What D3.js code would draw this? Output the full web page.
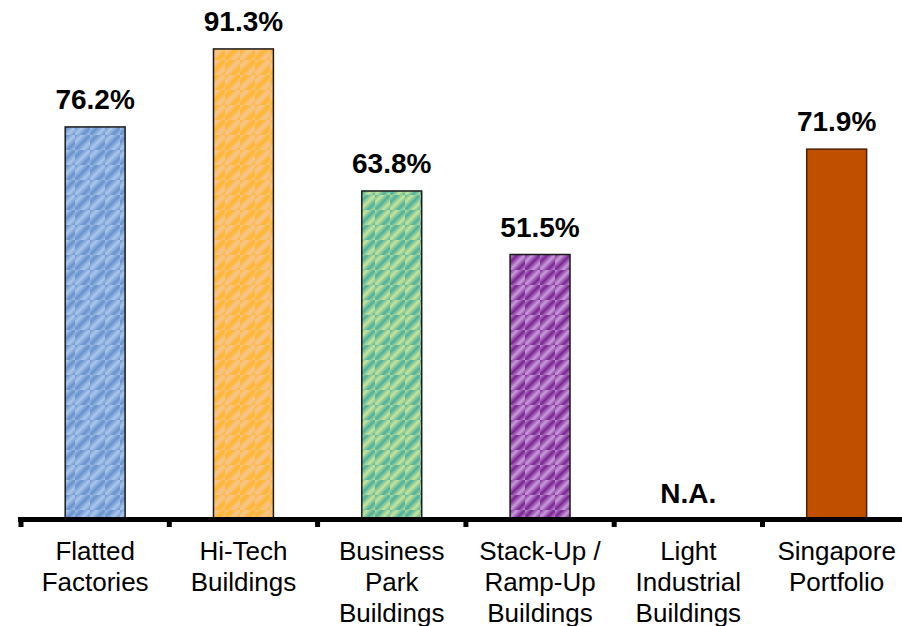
<!DOCTYPE html>
<html>
<head>
<meta charset="utf-8">
<script src="https://cdn.jsdelivr.net/npm/d3@7"></script>
<style>
  html, body { margin: 0; padding: 0; background: #fff; }
  svg { display: block; }
</style>
</head>
<body>
<svg id="chart" width="902" height="626"></svg>
<script>
// Occupancy rate by property segment
const categories = [
  ["Flatted", "Factories"],
  ["Hi-Tech", "Buildings"],
  ["Business", "Park", "Buildings"],
  ["Stack-Up /", "Ramp-Up", "Buildings"],
  ["Light", "Industrial", "Buildings"],
  ["Singapore", "Portfolio"]
];
const occupancy = [76.2, 91.3, 63.8, 51.5, null, 71.9];
const valueLabels = ["76.2%", "91.3%", "63.8%", "51.5%", "N.A.", "71.9%"];
// [dark, light] pairs for the hatched fills; null = solid fill
const fillPairs = [
  ["#6892cd", "#aac6ec"],
  ["#ffb52c", "#f6c692"],
  ["#4cb09c", "#c8e49a"],
  ["#7a2490", "#c89adc"],
  ["#888888", "#cccccc"],
  null
];
const solidFill = "#c04f00";

const W = 902, H = 626;
const svg = d3.select("#chart");
const defs = svg.append("defs");

const keys = categories.map((c, i) => "c" + i);
const x = d3.scaleBand()
  .domain(keys)
  .range([21, 910.8])
  .paddingInner(0.596)
  .paddingOuter(0.298);
const y = d3.scaleLinear().domain([0, 100]).range([520.5, 4]);
const step = x.step();

// Diagonal checker-hatch patterns
const B = 15;
fillPairs.forEach((pair, i) => {
  if (!pair) return;
  ["a", "b"].forEach((ph, k) => {
    const g = defs.append("linearGradient")
      .attr("id", `g${i}${ph}`)
      .attr("gradientUnits", "userSpaceOnUse")
      .attr("x1", 0).attr("y1", 0)
      .attr("x2", B / 2).attr("y2", B / 2)
      .attr("spreadMethod", "repeat");
    const s = k === 0 ? [pair[0], pair[1], pair[0]] : [pair[1], pair[0], pair[1]];
    g.append("stop").attr("offset", 0).attr("stop-color", s[0]);
    g.append("stop").attr("offset", 0.5).attr("stop-color", s[1]);
    g.append("stop").attr("offset", 1).attr("stop-color", s[2]);
  });
  const p = defs.append("pattern")
    .attr("id", `p${i}`)
    .attr("patternUnits", "userSpaceOnUse")
    .attr("width", 2 * B).attr("height", 2 * B);
  [[0, 0, "a"], [B, 0, "b"], [0, B, "b"], [B, B, "a"]].forEach(([px, py, ph]) => {
    p.append("rect")
      .attr("x", px).attr("y", py).attr("width", B).attr("height", B)
      .attr("fill", `url(#g${i}${ph})`);
  });
});

const rows = keys.map((k, i) => ({ key: k, value: occupancy[i], label: valueLabels[i], lines: categories[i], i }));

// Bars
svg.append("g").selectAll("rect")
  .data(rows.filter(d => d.value != null))
  .join("rect")
  .attr("x", d => x(d.key))
  .attr("y", d => y(d.value))
  .attr("width", x.bandwidth())
  .attr("height", d => y(0) - y(d.value))
  .attr("fill", d => fillPairs[d.i] ? `url(#p${d.i})` : solidFill)
  .attr("stroke", d => fillPairs[d.i] ? "#1a1a1a" : "#4a2000")
  .attr("stroke-width", 1.5);

// Value labels
svg.append("g").selectAll("text")
  .data(rows)
  .join("text")
  .attr("x", d => x(d.key) + x.bandwidth() / 2)
  .attr("y", d => y(d.value == null ? 0 : d.value) - 18)
  .attr("text-anchor", "middle")
  .attr("font-family", "Liberation Sans, Arial, sans-serif")
  .attr("font-weight", "bold")
  .attr("font-size", 28)
  .attr("fill", "#000")
  .text(d => d.label);

// Category axis: thick baseline with boundary ticks
const axis = svg.append("g");
axis.append("line")
  .attr("x1", 18).attr("x2", W + 10)
  .attr("y1", 519.5).attr("y2", 519.5)
  .attr("stroke", "#000").attr("stroke-width", 5);
axis.selectAll("line.tick")
  .data(keys)
  .join("line")
  .attr("class", "tick")
  .attr("x1", d => x(d) - step * x.paddingOuter())
  .attr("x2", d => x(d) - step * x.paddingOuter())
  .attr("y1", 517).attr("y2", 527)
  .attr("stroke", "#000").attr("stroke-width", 5);

const cat = axis.selectAll("text.cat")
  .data(rows)
  .join("text")
  .attr("class", "cat")
  .attr("text-anchor", "middle")
  .attr("font-family", "Liberation Sans, Arial, sans-serif")
  .attr("font-size", 26)
  .attr("fill", "#000");
cat.selectAll("tspan")
  .data(d => d.lines.map((t, j) => ({ t, j, cx: x(d.key) + x.bandwidth() / 2 })))
  .join("tspan")
  .attr("x", d => d.cx)
  .attr("y", d => 560 + d.j * 31)
  .text(d => d.t);
</script>
</body>
</html>
